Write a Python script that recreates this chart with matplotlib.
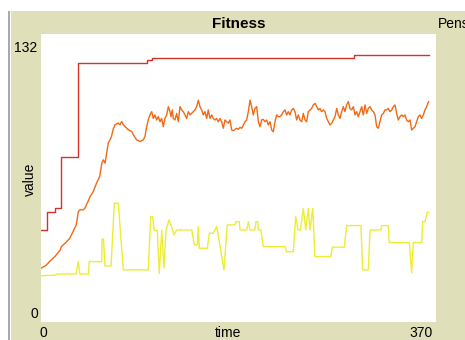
import numpy as np
import matplotlib
matplotlib.use("Agg")
import matplotlib.pyplot as plt
from matplotlib.patches import Rectangle

plt.rcParams['font.family'] = ['Liberation Sans', 'DejaVu Sans']

# best fitness (step line)
red_t = [0, 5.3, 13.1, 18.5, 34.9, 99, 103.7, 293.2, 363]
red_v = [42.2, 50.6, 52.1, 75.4, 118.8, 120.2, 120.9, 122.2, 122.2]

# mean fitness
orange_t = [0, 5, 8, 13, 18, 19, 24, 27, 30, 33, 35, 36.5, 39.6, 41, 44, 46, 49, 52, 55, 57,
            58.4, 60, 61.5, 63, 64.6, 66, 67.7, 69.3, 72.4, 74, 75.6, 77.1, 78.7, 80.3, 81.8, 85,
            86.5, 89.6, 92.7, 95.8, 97.4, 99, 100.5, 102.1, 103.7, 105.2, 106.8, 108.3, 109.9, 111.5,
            113, 114.6, 116.1, 117.7, 119.3, 120.8, 121.8, 123, 123.9, 125.5, 127.1, 128.6, 130.2,
            131.8, 133.3, 134.9, 136.4, 138, 139.6, 141.1, 142.7, 144.2, 145.8, 147.4, 148.9, 150.5,
            152, 153.6, 155.2, 156.7, 158.3, 159.9, 161.4, 163, 164.5, 166.1, 167.7, 169.2, 170.8,
            172.3, 173.9, 175.5, 177, 178.6, 180.2, 181.7, 183.3, 184.8, 186.4, 188, 189.5, 191.1,
            192.6, 194.2, 195.8, 197.3, 198.9, 200.4, 202, 203.6, 205.1, 206.7, 208.2, 209.8, 211.4,
            212.9, 214.5, 216.1, 217.6, 219.2, 220.7, 222.3, 223.9, 225.4, 227, 228.5, 230.1, 231.7,
            233.2, 234.8, 236.3, 237.9, 239.5, 241, 242.6, 244.2, 245.7, 247.3, 248.8, 250.4, 252,
            253.5, 255.1, 256.7, 258.2, 259.8, 261.3, 262.9, 264.5, 266, 267.6, 269.1, 270.7, 272.3,
            273.8, 275.4, 277, 278.5, 280.1, 281.6, 283.2, 284.7, 286.3, 287.9, 289.4, 291, 292.6,
            294.1, 295.7, 297.2, 298.8, 300.4, 301.9, 303.5, 305.1, 306.6, 308.2, 309.7, 311.3, 312.9,
            314.4, 316, 317.5, 319.1, 320.7, 322.2, 323.8, 325.3, 326.9, 328.5, 330, 331.6, 333.1,
            334.7, 336.3, 337.8, 339.4, 340.9, 342.5, 344.1, 345.6, 347.2, 348.7, 350.3, 351.9, 353.4,
            355, 356.6, 358.1, 359.7, 361.2, 363]
orange_v = [24.6, 26.1, 27.7, 30, 33, 34.5, 36.8, 38.4, 41.4, 44.5, 50.6, 51.4, 51.4, 52.1, 55.2,
            57.5, 59.8, 63.6, 66.7, 72.8, 74.3, 72.8, 77.4, 82, 83.5, 85, 88.5, 90.4, 91.2, 90.4,
            91.9, 90.4, 89.6, 88.8, 88.1, 87.3, 85.8, 83.5, 82.7, 83.5, 85, 89.6, 92.7, 94.9, 96.4,
            93.3, 94.9, 92.6, 94.1, 91.8, 93.3, 89.5, 93.3, 94.9, 98.7, 96.4, 94.1, 97.2, 93.3, 92.6,
            95.6, 91.8, 98.7, 97.2, 96.4, 94.9, 93.3, 96.4, 94.9, 95.6, 96.4, 97.2, 98.7, 101.7, 98.7,
            97.2, 94.9, 96.4, 93.3, 97.2, 93.3, 94.9, 93.3, 92.6, 93.3, 91.8, 93.3, 91.8, 88.8, 92.6,
            91.8, 91.1, 92.6, 88, 87.7, 88.3, 88.8, 88.3, 89.2, 88.8, 90.3, 91.8, 92.6, 96.4, 101.7,
            98.7, 94.9, 97.9, 98.7, 91.8, 89.5, 92.6, 92.9, 91.8, 92.6, 90.3, 91.8, 88, 87.2, 91.8,
            94.9, 94.1, 94.1, 94.9, 96.4, 97.2, 94.9, 96.4, 94.9, 97.2, 97.9, 96.4, 92.6, 94.9, 92.6,
            91.8, 95.6, 92.6, 91.8, 96.4, 97.2, 97.9, 99.5, 100.2, 98.7, 97.2, 97.9, 96.4, 97.2, 96.4,
            93.3, 91.8, 90.3, 91.1, 92.6, 94.1, 97.9, 94.9, 93.3, 96.4, 98.7, 96.4, 99.5, 101, 97.9,
            97.2, 98.7, 94.9, 96.4, 94.1, 96.4, 98.7, 94.9, 99.5, 95.6, 97.9, 98.7, 97.2, 96.4, 94.9,
            89.5, 88.8, 91.8, 94.9, 95.6, 97.2, 97.2, 97.9, 96.4, 97.2, 98.7, 99.5, 95.6, 92.6, 94.1,
            94.9, 94.1, 94.9, 92.6, 91.8, 92.6, 88, 88.8, 89.5, 91.8, 94.1, 94.9, 93.3, 94.9, 97.2,
            98.7, 101]

# worst fitness
yellow_t = [0, 14, 15, 30.3, 32.8, 34.9, 36.5, 44.5, 45.2, 56.9, 57.2, 58.5, 59.9, 65.6, 68.7,
            72.4, 77.1, 100.5, 102.8, 104.6, 106.1, 108.9, 110.8, 113.1, 115.2, 117.1, 119.9, 122,
            124.6, 127.1, 141.2, 143.6, 146.5, 147.3, 148.3, 155.8, 157.7, 161.4, 164.6, 171.4,
            174.5, 181.7, 182.6, 185.7, 186.4, 192.7, 194.2, 195.8, 200.4, 201.4, 203, 203.5, 206,
            208.2, 228.5, 230.1, 236.3, 238.6, 240.7, 243, 245.7, 247.9, 250.4, 252, 254.5, 256.6,
            271.4, 272.9, 284.1, 286.3, 299.7, 301.3, 306.6, 308.2, 318.5, 319.1, 325.3, 326.2, 345,
            347.2, 348.7, 356.6, 357.5, 359.7, 361.8, 363]
yellow_v = [21.2, 21.5, 22, 22, 22, 27.7, 22, 22, 27.7, 27.7, 38, 38, 25.7, 25.7, 54.4, 54.4, 23.9,
            23.9, 48.3, 48.3, 42, 42, 22.3, 42, 24.8, 42, 46.8, 44, 40, 42.2, 42.2, 35.3, 35.3, 43.8,
            33.8, 33.8, 40.7, 40.7, 43.8, 23.9, 44.5, 44.5, 46, 46, 42.2, 42.2, 46, 42.2, 42.2, 46, 46,
            42.2, 42.2, 34.6, 34.6, 32.2, 32.2, 48.3, 42.2, 42.2, 52.1, 42.2, 52.1, 42.2, 52.1, 30, 30,
            34.3, 34.3, 44.2, 44.2, 23.9, 23.9, 42.2, 42.2, 44.2, 44.2, 36.4, 36.4, 22.6, 36.4, 36.4,
            46, 46, 50.3, 50.3]

W, H = 465, 340
fig = plt.figure(figsize=(W / 100, H / 100), dpi=100)
fig.patch.set_facecolor('white')

# widget background
fig.patches.append(Rectangle((11 / W, 0), 1, 1 - 11 / H, transform=fig.transFigure,
                             facecolor='#DFDFB9', edgecolor='none', zorder=-2))
fig.patches.append(Rectangle((8 / W, 0), 2 / W, 1 - 11 / H, transform=fig.transFigure,
                             facecolor='#A9A9A9', edgecolor='none', zorder=-2))

ax = fig.add_axes([41 / W, 18 / H, 395 / W, 288 / H])
ax.set_zorder(2)
ax.set_facecolor('white')
ax.step(red_t, red_v, where='post', color='#D73229', lw=1.0)
ax.plot(orange_t, orange_v, color='#F16913', lw=1.0)
ax.plot(yellow_t, yellow_v, color='#EDED31', lw=1.0)
ax.set_xlim(0, 370)
ax.set_ylim(0, 132)
ax.set_xticks([])
ax.set_yticks([])
for s in ax.spines.values():
    s.set_visible(False)


def px(x, y):
    return x / W, 1 - y / H


fs = 10
fig.text(*px(238.5, 23.5), 'Fitness', ha='center', va='center', fontsize=11, fontweight='bold')
fig.text(*px(438, 23.5), 'Pens', ha='left', va='center', fontsize=fs)
fig.text(*px(37.5, 47.5), '132', ha='right', va='center', fontsize=fs)
fig.text(*px(38.5, 314), '0', ha='right', va='center', fontsize=fs)
fig.text(*px(39.5, 333), '0', ha='left', va='center', fontsize=fs)
fig.text(*px(433, 333), '370', ha='right', va='center', fontsize=fs)
fig.text(*px(228, 333), 'time', ha='center', va='center', fontsize=fs)
fig.text(*px(30, 179.5), 'value', ha='center', va='center', fontsize=fs, rotation=90)

plt.savefig('out.png', dpi=100)
